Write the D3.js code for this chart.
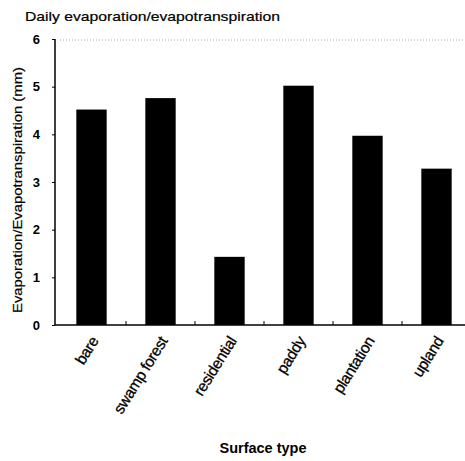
<!DOCTYPE html>
<html><head><meta charset="utf-8">
<script src="https://cdn.jsdelivr.net/npm/d3@7"></script>
<style>body{margin:0;background:#fff}svg{display:block}text{font-family:"Liberation Sans",Arial,sans-serif;fill:#000}</style>
</head><body><svg id="c" width="465" height="461"></svg>
<script>
const categories = ["bare","swamp forest","residential","paddy","plantation","upland"];
const values = [4.52, 4.76, 1.43, 5.02, 3.97, 3.28];
const yTicks = [0,1,2,3,4,5,6];
const title = "Daily evaporation/evapotranspiration";
const yLabel = "Evaporation/Evapotranspiration (mm)";
const xLabel = "Surface type";

const svg = d3.select("#c");
const x = d3.scaleBand().domain(categories).range([57, 471]).paddingInner(0.56).paddingOuter(0.28);
const y = d3.scaleLinear().domain([0, 6]).range([325, 39]);

svg.append("line").attr("x1", 60).attr("x2", 465).attr("y1", y(6)+1).attr("y2", y(6)+1)
  .attr("stroke", "#aaa").attr("stroke-width", 1).attr("stroke-dasharray", "1,2");

svg.selectAll("rect.bar").data(categories).enter().append("rect")
  .attr("class","bar")
  .attr("x", d => x(d)).attr("width", x.bandwidth())
  .attr("y", (d,i) => y(values[i])).attr("height", (d,i) => y(0) - y(values[i]))
  .attr("fill", "#000");

const ya = svg.append("g").attr("transform", "translate(55,0)")
  .call(d3.axisLeft(y).tickValues(yTicks).tickSize(3).tickPadding(12).tickFormat(d3.format("d")));
ya.select(".domain").attr("stroke", "#000").attr("stroke-width", 1.5).attr("d", `M0,${y(6)}V${y(0)}`);
ya.selectAll("text").attr("font-size", 13).attr("font-weight", "bold").attr("fill", "#000").attr("font-family", "Liberation Sans, Arial, sans-serif");

const step = x.step();
const bounds = categories.slice(1).map(d => x(d) - (step - x.bandwidth())/2);
svg.append("line").attr("x1", 55).attr("x2", 465).attr("y1", y(0)).attr("y2", y(0))
  .attr("stroke", "#000").attr("stroke-width", 1.5);
svg.selectAll("line.xt").data(bounds).enter().append("line").attr("class","xt")
  .attr("x1", d => d).attr("x2", d => d).attr("y1", y(0)).attr("y2", y(0) - 4)
  .attr("stroke", "#000").attr("stroke-width", 1);

svg.selectAll("text.xl").data(categories).enter().append("text").attr("class","xl")
  .attr("transform", d => `translate(${x(d) + x.bandwidth()/2 + 3},${y(0) + 13}) rotate(-58)`)
  .attr("text-anchor", "end").attr("dy", "0.35em")
  .attr("font-size", 15.5).attr("letter-spacing", "-0.4")
  .attr("stroke", "#000").attr("stroke-width", 0.3)
  .text(d => d);

svg.append("text").attr("x", 25).attr("y", 21).attr("font-size", 13)
  .attr("stroke", "#000").attr("stroke-width", 0.2)
  .attr("textLength", 255).attr("lengthAdjust", "spacingAndGlyphs").text(title);

svg.append("text").attr("transform", "translate(22,190) rotate(-90)")
  .attr("text-anchor", "middle").attr("font-size", 13).attr("fill", "#000")
  .attr("stroke", "#000").attr("stroke-width", 0.2)
  .attr("textLength", 246).attr("lengthAdjust", "spacingAndGlyphs").text(yLabel);

svg.append("text").attr("x", 263).attr("y", 453).attr("text-anchor", "middle")
  .attr("font-size", 14.5).attr("font-weight", "bold").text(xLabel);
</script></body></html>
